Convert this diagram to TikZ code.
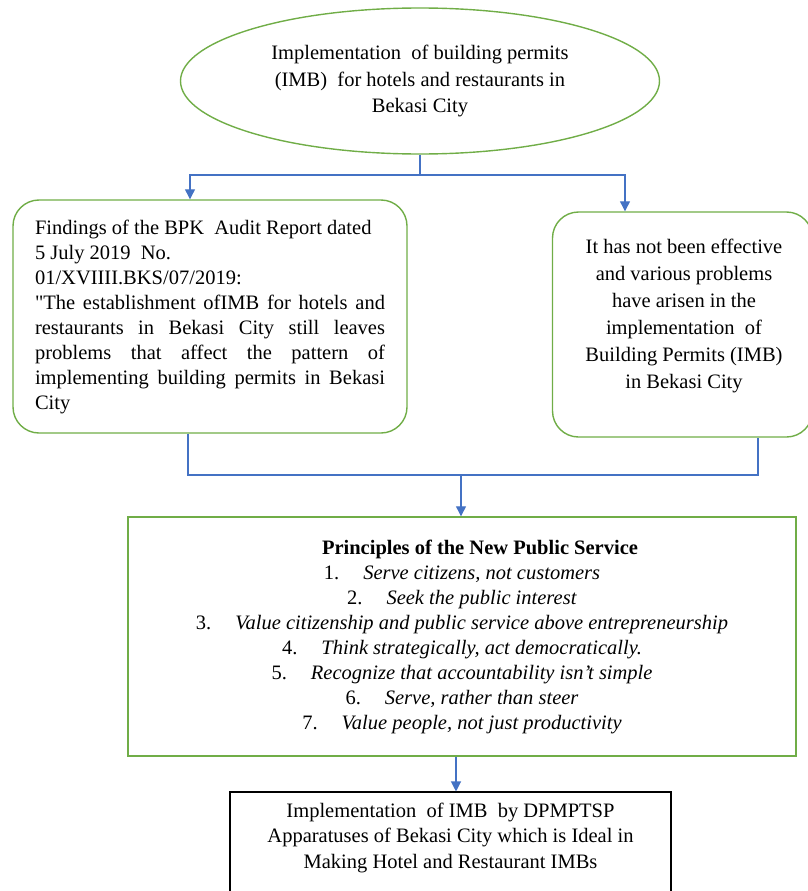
\documentclass[tikz,border=0pt]{standalone}
\usepackage{fontspec}
\setmainfont{Liberation Serif}[Ligatures=TeXOff]
\usepackage{tikz}
\usetikzlibrary{shapes.geometric, arrows.meta}
\definecolor{boxgreen}{RGB}{112,173,71}
\definecolor{linkblue}{RGB}{68,114,196}
\hyphenpenalty=10000
\exhyphenpenalty=10000

\begin{document}
\begin{tikzpicture}[
        x=1pt, y=-1pt,
        every node/.style={font=\fontsize{20.5}{25}\selectfont, inner sep=0pt},
        topnode/.style={draw=boxgreen, line width=1.4pt, ellipse, minimum width=479pt, minimum height=146pt, align=center, font=\fontsize{20.5}{26.5}\selectfont},
        roundbox/.style={draw=boxgreen, line width=1.4pt, rectangle, rounded corners=26pt},
        principlebox/.style={draw=boxgreen, line width=1.4pt, rectangle, minimum width=668pt, minimum height=239pt, align=center},
        idealbox/.style={draw=black, line width=1.1pt, rectangle, minimum width=441pt, minimum height=118pt},
        link/.style={draw=linkblue, line width=1.2pt},
        flow/.style={link, -{Triangle[width=10pt,length=10pt]}}
    ]
    \useasboundingbox (0,0) rectangle (808,891);
    \clip (0,0) rectangle (808,891);

    \node[topnode] (impl) at (420,81) {Implementation \ of building permits\\(IMB) \ for hotels and restaurants in\\Bekasi City};

    \node[roundbox, minimum width=394pt, minimum height=233pt, text width=350pt, align=justify] (audit) at (210,316.5) {Findings of the BPK \ Audit Report dated\newline 5 July 2019 \ No.\newline 01/XVIIII.BKS/07/2019:\newline "The establishment ofIMB for hotels and\linebreak restaurants in Bekasi City still leaves\linebreak problems that affect the pattern of\linebreak implementing building permits in Bekasi\linebreak City};

    \node[roundbox, minimum width=260pt, minimum height=225pt] (effect) at (682.5,324.5) {};
    \node[align=center, font=\fontsize{20.5}{27}\selectfont] (effecttext) at (684,315.5) {It has not been effective\\and various problems\\have arisen in the\\implementation \ of\\Building Permits (IMB)\\in Bekasi City};

    \node[principlebox] (principles) at (462,636.5) {\hspace*{36pt}\textbf{Principles of the New Public Service}\\
        1.\hspace{24pt}\textit{Serve citizens, not customers}\\
        2.\hspace{24pt}\textit{Seek the public interest}\\
        3.\hspace{24pt}\textit{Value citizenship and public service above entrepreneurship}\\
        4.\hspace{24pt}\textit{Think strategically, act democratically.}\\
        5.\hspace{24pt}\textit{Recognize that accountability isn’t simple}\\
        6.\hspace{24pt}\textit{Serve, rather than steer}\\
        7.\hspace{24pt}\textit{Value people, not just productivity}};

    \node[idealbox] (ideal) at (450.5,851) {};
    \node[align=center, font=\fontsize{20.5}{25.5}\selectfont] (idealtext) at (450.5,837.5) {Implementation \ of IMB \ by DPMPTSP\\Apparatuses of Bekasi City which is Ideal in\\Making Hotel and Restaurant IMBs};

    % connectors
    \coordinate (topsplit) at (420,175);
    \coordinate (midjoin) at (461,475);
    \draw[link] (impl.south) -- (topsplit);
    \draw[flow] (topsplit) -| ([xshift=-20pt]audit.north);
    \draw[flow] (topsplit) -| ([xshift=-57.5pt]effect.north);
    \draw[link] ([xshift=-22pt]audit.south) |- (midjoin) -| ([xshift=75.5pt]effect.south);
    \draw[flow] (midjoin) -- (midjoin |- principles.north);
    \draw[flow] ([xshift=-6pt]principles.south) -- ([xshift=-6pt]principles.south |- ideal.north);
\end{tikzpicture}
\end{document}
